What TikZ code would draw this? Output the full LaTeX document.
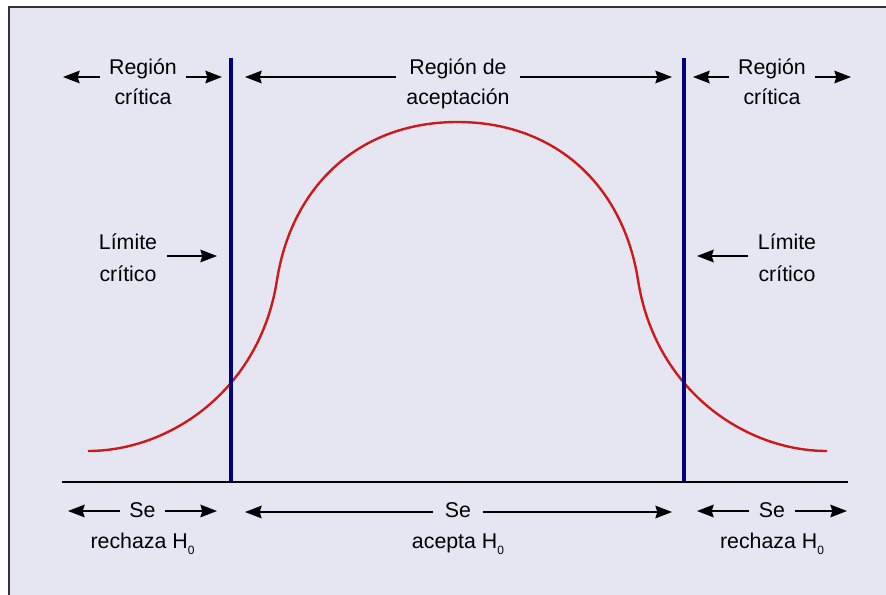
\documentclass[tikz,border=0pt]{standalone}
\usepackage{fontspec}
\setmainfont{Liberation Sans}
\usetikzlibrary{arrows.meta}
\definecolor{fondo}{HTML}{E6E6F2}
\definecolor{marcogris}{HTML}{333333}
\definecolor{azullim}{HTML}{000080}
\definecolor{rojocurva}{HTML}{CC1A1A}
\newcommand{\hcero}{H\raisebox{-5pt}{\fontsize{9}{9}\selectfont 0}}
\tikzset{
  texto/.style={anchor=base, inner xsep=7pt, font=\fontsize{16}{18}\selectfont},
  flecha/.style={-{Stealth[length=12.5pt,width=9.5pt,inset=1.5pt]}, line width=1.2pt},
  limite/.style={azullim, line width=2.4pt},
  curva/.style={rojocurva, line width=1.8pt},
}
\begin{document}
\begin{tikzpicture}[x=0.75pt,y=-0.75pt]
\useasboundingbox (0,0) rectangle (886,594);
\clip (0,0) rectangle (886,594);
\draw[marcogris, line width=1.5pt, fill=fondo] (9,7) rectangle (900,610);
\draw[curva] (88,451) .. controls (170,451) and (260,390) .. (277,280)
  .. controls (292,185) and (360,122) .. (457.5,122)
  .. controls (555,122) and (623,185) .. (638,280)
  .. controls (655,390) and (745,451) .. (827,451);
\draw[limite] (231,58) -- (231,482);
\draw[limite] (684,58) -- (684,482);
\draw[line width=1.5pt] (62,482) -- (848,482);
\node[texto] (rcIa) at (143,74) {Región};
\node[texto] (rcIb) at (143,104) {crítica};
\node[texto, inner xsep=10pt] (raA) at (458,74) {Región de};
\node[texto] (raB) at (458,104) {aceptación};
\node[texto] (rcDa) at (772,74) {Región};
\node[texto] (rcDb) at (772,104) {crítica};
\node[texto] (lcIa) at (128,249) {Límite};
\node[texto] (lcIb) at (128,281) {crítico};
\node[texto] (lcDa) at (787,249) {Límite};
\node[texto] (lcDb) at (787,281) {crítico};
\node[texto] (srI) at (142.5,517) {Se};
\node[texto] (rhI) at (142.5,548) {rechaza \hcero};
\node[texto, inner xsep=8.5pt] (saM) at (458,517) {Se};
\node[texto] (acM) at (458,548) {acepta \hcero};
\node[texto] (srD) at (772,517) {Se};
\node[texto] (rhD) at (772,548) {rechaza \hcero};
\coordinate (pIa) at (63,77);
\coordinate (pIb) at (222,77);
\coordinate (pMa) at (245,77);
\coordinate (pMb) at (672,77);
\coordinate (pDa) at (693,77);
\coordinate (pDb) at (851,77);
\coordinate (pLI) at (217,256);
\coordinate (pLD) at (697,256);
\coordinate (qIa) at (68,511);
\coordinate (qIb) at (217,511);
\coordinate (qMa) at (245,512);
\coordinate (qMb) at (672,512);
\coordinate (qDa) at (697,511);
\coordinate (qDb) at (847,511);
\draw[flecha] (rcIa.west |- pIa) -- (pIa);
\draw[flecha] (rcIa.east |- pIb) -- (pIb);
\draw[flecha] (raA.west |- pMa) -- (pMa);
\draw[flecha] (raA.east |- pMb) -- (pMb);
\draw[flecha] (rcDa.west |- pDa) -- (pDa);
\draw[flecha] (rcDa.east |- pDb) -- (pDb);
\draw[flecha] (lcIa.east |- pLI) -- (pLI);
\draw[flecha] (lcDa.west |- pLD) -- (pLD);
\draw[flecha] (srI.west |- qIa) -- (qIa);
\draw[flecha] (srI.east |- qIb) -- (qIb);
\draw[flecha] (saM.west |- qMa) -- (qMa);
\draw[flecha] (saM.east |- qMb) -- (qMb);
\draw[flecha] (srD.west |- qDa) -- (qDa);
\draw[flecha] (srD.east |- qDb) -- (qDb);
\end{tikzpicture}
\end{document}
